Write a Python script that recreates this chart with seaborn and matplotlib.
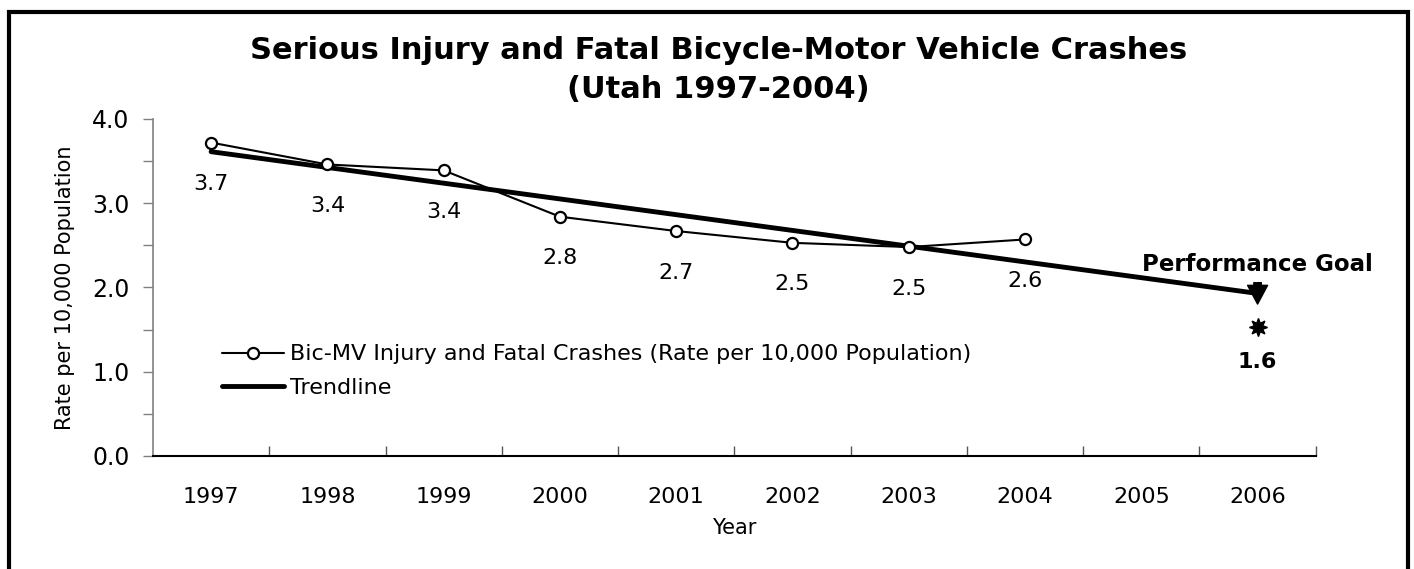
import numpy as np
import pandas as pd
import matplotlib
matplotlib.use("Agg")
import matplotlib.pyplot as plt
import seaborn as sns
from matplotlib.patches import Rectangle

# Data
years = ["1997", "1998", "1999", "2000", "2001", "2002", "2003", "2004", "2005", "2006"]
rates = [3.72, 3.46, 3.39, 2.84, 2.67, 2.53, 2.48, 2.57]
rate_labels = ["3.7", "3.4", "3.4", "2.8", "2.7", "2.5", "2.5", "2.6"]
goal_year = "2006"
goal_value = 1.53
goal_label = "1.6"

sns.set_style("white")
plt.rcParams["font.family"] = ["DejaVu Sans"]
plt.rcParams["text.color"] = "black"
plt.rcParams["axes.labelcolor"] = "black"
plt.rcParams["xtick.color"] = "black"
plt.rcParams["ytick.color"] = "black"

df = pd.DataFrame({"pos": np.arange(len(rates)), "rate": rates})

# Linear trendline fitted to the observed years, extended to 2006
coef = np.polyfit(df["pos"], df["rate"], 1)
trend_x = np.array([0, len(years) - 1])
trend_y = np.polyval(coef, trend_x)

fig = plt.figure(figsize=(14.14, 5.69), dpi=100)
ax = fig.add_axes([0.1082, 0.1986, 0.8223, 0.5923])

sns.lineplot(x=trend_x, y=trend_y, ax=ax, color="black", linewidth=3.5,
             label="Trendline", zorder=2)
sns.lineplot(data=df, x="pos", y="rate", ax=ax, color="black", linewidth=1.5,
             marker="o", markersize=8, markerfacecolor="white",
             markeredgecolor="black", markeredgewidth=1.6,
             label="Bic-MV Injury and Fatal Crashes (Rate per 10,000 Population)",
             zorder=3)

# value labels under points
for i, lab in enumerate(rate_labels):
    ax.annotate(lab, (i, rates[i]), xytext=(0, -30), textcoords="offset points",
                ha="center", va="center", fontsize=16)

# performance goal
gx = years.index(goal_year)
ax.plot(gx, goal_value, marker=(8, 1, 0), markersize=13, color="black",
        linestyle="none", zorder=4)
ax.annotate("", xy=(gx, 1.77), xytext=(gx, 2.09),
            arrowprops=dict(arrowstyle="simple,head_length=0.75,head_width=0.8,tail_width=0.3",
                            fc="black", ec="black", mutation_scale=18))
ax.text(gx, 2.27, "Performance Goal", ha="center", va="center",
        fontsize=16.5, fontweight="bold")
ax.text(gx, 1.12, goal_label, ha="center", va="center", fontsize=16,
        fontweight="bold")

ax.set_xlim(-0.5, len(years) - 0.5)
ax.set_ylim(0, 4)
ax.set_xticks(np.arange(len(years)))
ax.set_xticklabels(years)
ax.set_xticks(np.arange(0.5, len(years), 1.0), minor=True)
ax.set_yticks([0, 1, 2, 3, 4])
ax.set_yticklabels(["0.0", "1.0", "2.0", "3.0", "4.0"])
ax.set_yticks(np.arange(0.5, 4, 1.0), minor=True)

ax.tick_params(axis="x", which="major", bottom=True, length=0, pad=22, labelsize=16)
ax.tick_params(axis="x", which="minor", bottom=True, direction="in", length=7,
               width=1, color="#555555")
ax.tick_params(axis="y", which="both", left=True, direction="out", length=7,
               width=1, color="#808080", pad=10, labelsize=17)

for s in ["top", "right"]:
    ax.spines[s].set_visible(False)
ax.spines["left"].set_color("#808080")
ax.spines["left"].set_linewidth(1.2)
ax.spines["bottom"].set_color("black")
ax.spines["bottom"].set_linewidth(1.5)

ax.set_xlabel("Year", fontsize=15, labelpad=8)
ax.set_ylabel("Rate per 10,000 Population", fontsize=15, labelpad=12)

handles, labels = ax.get_legend_handles_labels()
ax.legend(handles[::-1], labels[::-1], loc="upper left",
          bbox_to_anchor=(0.143, 0.43), bbox_transform=fig.transFigure,
          frameon=False, fontsize=16, handlelength=2.8, handletextpad=0.25,
          labelspacing=0.62)

fig.text(0.508, 0.912, "Serious Injury and Fatal Bicycle-Motor Vehicle Crashes",
         ha="center", va="center", fontsize=22, fontweight="bold")
fig.text(0.508, 0.842, "(Utah 1997-2004)", ha="center", va="center",
         fontsize=22, fontweight="bold")

# frame round the whole chart (bottom edge falls outside the picture)
fig.patches.append(Rectangle((0.0065, -0.05), 0.9895, 1.029, fill=False,
                             edgecolor="black", linewidth=3,
                             transform=fig.transFigure, figure=fig))

fig.savefig("out.png", dpi=100)
